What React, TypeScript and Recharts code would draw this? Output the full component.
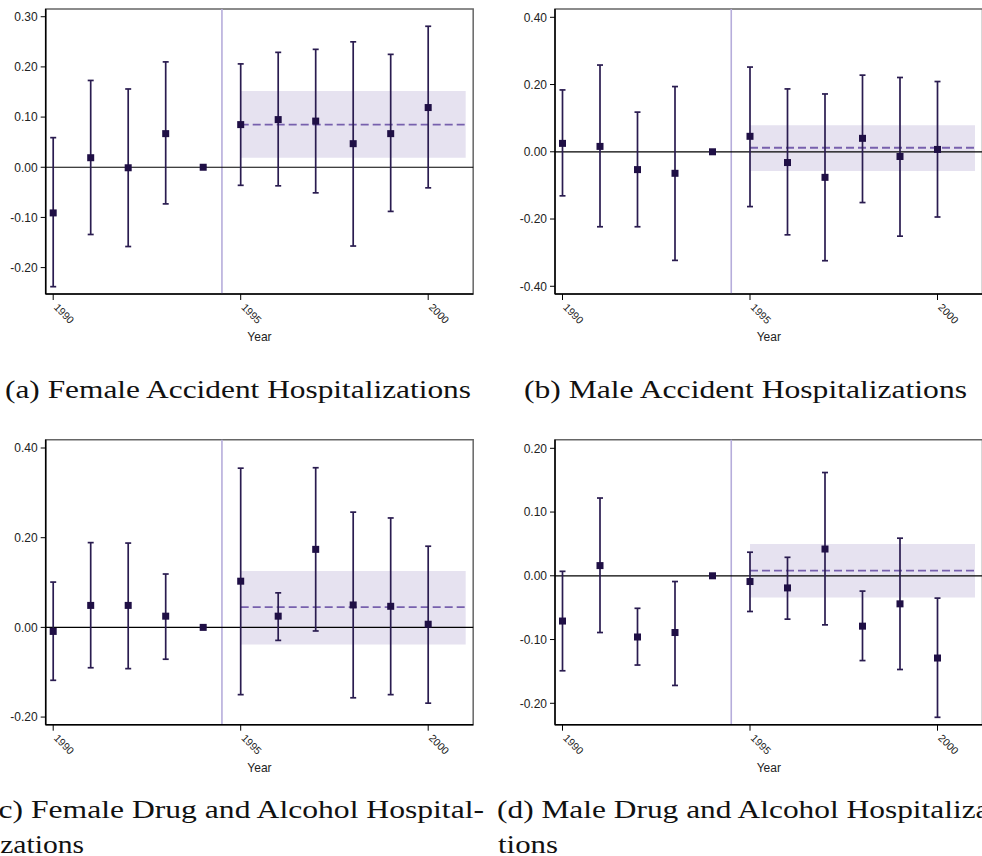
import { ScatterChart, Scatter, XAxis, YAxis, ErrorBar, ReferenceLine, ReferenceArea } from 'recharts'

const years = [1990, 1991, 1992, 1993, 1994, 1995, 1996, 1997, 1998, 1999, 2000]
const xTicks = [1990, 1995, 2000]
const xDomain = [1989.8, 2001.2]

// (a) female accident hospitalizations
const femAccEst = [-0.091, 0.019, -0.001, 0.067, 0, 0.085, 0.095, 0.092, 0.047, 0.067, 0.119]
const femAccLo = [-0.238, -0.134, -0.158, -0.073, 0, -0.036, -0.037, -0.051, -0.157, -0.088, -0.041]
const femAccHi = [0.059, 0.173, 0.156, 0.21, 0, 0.206, 0.229, 0.235, 0.25, 0.225, 0.281]
const femAccPost = [0.085, 0.019, 0.152] // mean, lower, upper
const femAccTicks = [-0.2, -0.1, 0, 0.1, 0.2, 0.3]

// (b) male accident hospitalizations
const maleAccEst = [0.025, 0.016, -0.053, -0.064, 0, 0.046, -0.032, -0.076, 0.04, -0.014, 0.007]
const maleAccLo = [-0.131, -0.223, -0.223, -0.323, 0, -0.163, -0.247, -0.324, -0.151, -0.251, -0.194]
const maleAccHi = [0.184, 0.258, 0.118, 0.194, 0, 0.252, 0.187, 0.172, 0.228, 0.221, 0.209]
const maleAccPost = [0.012, -0.057, 0.079]
const maleAccTicks = [-0.4, -0.2, 0, 0.2, 0.4]

// (c) female drug and alcohol hospitalizations
const femDrugEst = [-0.009, 0.049, 0.049, 0.025, 0, 0.103, 0.025, 0.174, 0.05, 0.047, 0.007]
const femDrugLo = [-0.118, -0.09, -0.092, -0.071, 0, -0.15, -0.029, -0.008, -0.157, -0.15, -0.169]
const femDrugHi = [0.101, 0.189, 0.188, 0.119, 0, 0.355, 0.077, 0.356, 0.257, 0.244, 0.181]
const femDrugPost = [0.045, -0.038, 0.126]
const femDrugTicks = [-0.2, 0, 0.2, 0.4]

// (d) male drug and alcohol hospitalizations
const maleDrugEst = [-0.071, 0.016, -0.096, -0.089, 0, -0.009, -0.019, 0.042, -0.079, -0.044, -0.129]
const maleDrugLo = [-0.149, -0.089, -0.14, -0.172, 0, -0.056, -0.068, -0.077, -0.133, -0.147, -0.222]
const maleDrugHi = [0.007, 0.122, -0.051, -0.009, 0, 0.037, 0.029, 0.162, -0.024, 0.059, -0.035]
const maleDrugPost = [0.008, -0.034, 0.05]
const maleDrugTicks = [-0.2, -0.1, 0, 0.1, 0.2]

const sans = '"Liberation Sans", Arial, sans-serif'
const serif = '"Liberation Serif", "Times New Roman", serif'
const dark = '#1f0f45'

function YearTick(props: any) {
  const { x, y, payload } = props
  const ty = y + 6
  return (
    <text x={x} y={ty} transform={`rotate(45, ${x}, ${ty})`} textAnchor="start" fontSize={10.5} fontFamily={sans} fill="#222">
      {payload.value}
    </text>
  )
}

function Square(props: any) {
  const { cx, cy } = props
  if (cx == null || cy == null) return null
  return <rect x={cx - 3.5} y={cy - 3.5} width={7} height={7} fill={dark} />
}

interface PanelProps {
  left: number
  top: number
  axisW: number
  plotTop: number
  est: number[]
  lo: number[]
  hi: number[]
  post: number[]
  yDomain: number[]
  yTicks: number[]
}

function Panel({ left, top, axisW, plotTop, est, lo, hi, post, yDomain, yTicks }: PanelProps) {
  const rows = years.map((year, i) => ({ year, est: est[i], err: [est[i] - lo[i], hi[i] - est[i]] }))
  const plotW = 427.5
  const plotH = 285
  const H = 360
  const W = axisW + plotW + 18
  const axisH = H - plotTop - plotH
  return (
    <div style={{ position: 'absolute', left, top }}>
      <ScatterChart width={W} height={H} margin={{ top: plotTop, right: 18, left: 0, bottom: 0 }}>
        <XAxis
          type="number"
          dataKey="year"
          domain={xDomain}
          ticks={xTicks}
          allowDataOverflow
          height={axisH}
          tick={<YearTick />}
          tickSize={6}
          axisLine={{ stroke: '#000', strokeWidth: 1.5 }}
          tickLine={{ stroke: '#000' }}
          label={{ value: 'Year', position: 'insideBottom', offset: axisH - 47, fontSize: 12, fontFamily: sans, fill: '#222' }}
        />
        <YAxis
          type="number"
          dataKey="est"
          domain={yDomain}
          ticks={yTicks}
          allowDataOverflow
          width={axisW}
          tickFormatter={(v: number) => v.toFixed(2)}
          tickSize={5}
          tickMargin={3}
          tick={{ fontSize: 12, fontFamily: sans, fill: '#222' }}
          axisLine={{ stroke: '#000', strokeWidth: 1.5 }}
          tickLine={{ stroke: '#000' }}
        />
        <ReferenceArea x1={1995} x2={2001} y1={post[1]} y2={post[2]} fill="#e6e2f0" fillOpacity={1} stroke="none" />
        <ReferenceLine x={1994.5} stroke="#b6addb" strokeWidth={1.6} />
        <ReferenceLine y={0} stroke="#000" strokeWidth={1.2} />
        <ReferenceLine
          segment={[{ x: 1995, y: post[0] }, { x: 2001, y: post[0] }]}
          stroke="#7760ad"
          strokeWidth={1.8}
          strokeDasharray="8 4"
        />
        <ReferenceArea
          x1={xDomain[0]}
          x2={xDomain[1]}
          y1={yDomain[0]}
          y2={yDomain[1]}
          fill="none"
          stroke="#666"
          strokeWidth={1.5}
        />
        <Scatter data={rows} isAnimationActive={false} shape={Square}>
          <ErrorBar dataKey="err" direction="y" width={3} stroke="#2a1c50" strokeWidth={1.7} />
        </Scatter>
      </ScatterChart>
    </div>
  )
}

export default function App() {
  return (
    <div style={{ position: 'relative', width: 982, height: 856, overflow: 'hidden', background: '#fff' }}>
      <style>{'body{margin:0}'}</style>
      <Panel left={0} top={0} axisW={45.7} plotTop={9} est={femAccEst} lo={femAccLo} hi={femAccHi} post={femAccPost} yDomain={[-0.2526, 0.3154]} yTicks={femAccTicks} />
      <Panel left={491} top={0} axisW={64} plotTop={9} est={maleAccEst} lo={maleAccLo} hi={maleAccHi} post={maleAccPost} yDomain={[-0.423, 0.4247]} yTicks={maleAccTicks} />
      <Panel left={0} top={420} axisW={45.7} plotTop={19.7} est={femDrugEst} lo={femDrugLo} hi={femDrugHi} post={femDrugPost} yDomain={[-0.217, 0.4185]} yTicks={femDrugTicks} />
      <Panel left={491} top={420} axisW={64} plotTop={19.7} est={maleDrugEst} lo={maleDrugLo} hi={maleDrugHi} post={maleDrugPost} yDomain={[-0.2336, 0.2135]} yTicks={maleDrugTicks} />
      <svg width={982} height={856} style={{ position: 'absolute', left: 0, top: 0, pointerEvents: 'none' }}>
        <g fontFamily={serif} fontSize={26} fill="#111">
          <text x={5} y={398} textLength={466} lengthAdjust="spacingAndGlyphs">(a) Female Accident Hospitalizations</text>
          <text x={524} y={398} textLength={443} lengthAdjust="spacingAndGlyphs">(b) Male Accident Hospitalizations</text>
          <text x={-12} y={818} textLength={496} lengthAdjust="spacingAndGlyphs">(c) Female Drug and Alcohol Hospital-</text>
          <text x={-8} y={853} textLength={92} lengthAdjust="spacingAndGlyphs">izations</text>
          <text x={497} y={818} textLength={492.5} lengthAdjust="spacingAndGlyphs">(d) Male Drug and Alcohol Hospitaliza</text>
          <text x={498} y={853} textLength={60} lengthAdjust="spacingAndGlyphs">tions</text>
        </g>
      </svg>
    </div>
  )
}
